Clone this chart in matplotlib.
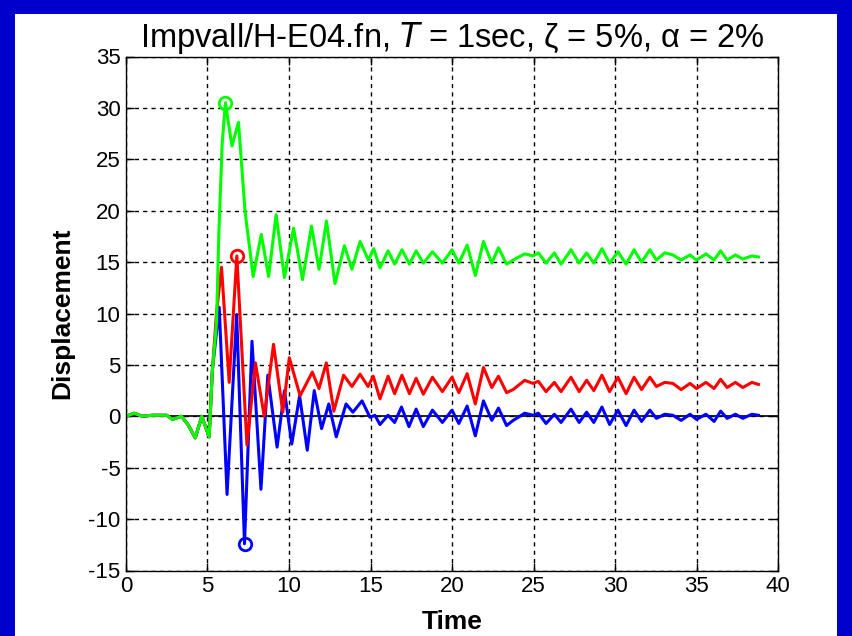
import numpy as np
import matplotlib
matplotlib.use("Agg")
import matplotlib.pyplot as plt
from matplotlib.patches import Rectangle

plt.rcParams["axes.unicode_minus"] = False

# peak / trough readings (time, displacement) for each response
t_green = [0.0, 0.5, 1.0, 1.6, 2.5, 2.85, 3.4, 3.8, 4.25, 4.65, 5.1, 5.3, 5.55, 5.7, 5.9, 6.1,
           6.5, 6.9, 7.3, 7.8, 8.3, 8.75, 9.21, 9.72, 10.28, 10.83, 11.38, 11.84, 12.3, 12.82,
           13.4, 13.86, 14.36, 14.87, 15.2, 15.58, 16.08, 16.48, 16.93, 17.39, 17.8, 18.24,
           18.8, 19.41, 20.0, 20.42, 20.93, 21.43, 21.93, 22.44, 22.85, 23.35, 23.75, 24.46,
           24.97, 25.3, 25.77, 26.28, 26.69, 27.3, 27.8, 28.26, 28.7, 29.2, 29.67, 30.18,
           30.68, 31.17, 31.63, 32.14, 32.54, 33.05, 33.55, 34.06, 34.6, 35.0, 35.58, 36.08,
           36.48, 36.88, 37.39, 37.84, 38.4, 38.8]
green = [0.0, 0.3, 0.0, 0.1, 0.1, -0.3, 0.0, -0.8, -2.1, 0.0, -2.0, 4.5, 9.0, 18.0, 26.5, 30.5,
         26.3, 28.6, 20.0, 13.6, 17.7, 13.6, 19.6, 13.5, 18.3, 13.3, 18.5, 14.3, 19.0, 12.9,
         16.6, 14.3, 17.0, 15.2, 16.3, 14.45, 16.1, 14.8, 16.2, 14.8, 16.1, 14.9,
         16.0, 14.9, 16.2, 14.9, 16.65, 13.7, 17.0, 14.9, 16.4, 14.8, 15.2, 15.8,
         15.6, 15.9, 14.9, 15.9, 14.8, 16.2, 14.9, 15.9, 14.9, 16.3, 14.9, 16.0,
         14.8, 16.2, 15.0, 16.2, 15.2, 15.9, 15.7, 15.2, 15.7, 15.2, 15.8, 15.2,
         16.1, 15.2, 15.7, 15.3, 15.6, 15.5]

t_red = [0.0, 0.5, 1.0, 1.6, 2.5, 2.85, 3.4, 3.8, 4.25, 4.65, 5.1, 5.3, 5.55, 5.86, 6.33, 6.8,
         7.42, 7.94, 8.48, 9.05, 9.62, 10.02, 10.68, 11.43, 11.84, 12.29, 12.75, 13.35, 13.86,
         14.36, 14.85, 15.17, 15.58, 16.08, 16.48, 16.93, 17.39, 17.8, 18.24, 18.8, 19.41,
         20.0, 20.42, 20.93, 21.43, 21.93, 22.44, 22.85, 23.35, 23.75, 24.46, 24.97, 25.3,
         25.77, 26.28, 26.69, 27.3, 27.8, 28.26, 28.7, 29.2, 29.67, 30.18, 30.68, 31.17,
         31.63, 32.14, 32.54, 33.05, 33.55, 34.06, 34.6, 35.0, 35.58, 36.08, 36.48, 36.88,
         37.39, 37.84, 38.4, 38.8]
red = [0.0, 0.3, 0.0, 0.1, 0.1, -0.3, 0.0, -0.8, -2.1, 0.0, -2.0, 4.5, 10.0, 14.5, 3.3, 15.6,
       -2.8, 5.2, 0.0, 7.0, 0.4, 5.7, 2.0, 4.3, 2.7, 5.2, 0.5, 4.0, 2.9,
       4.1, 2.9, 3.9, 1.7, 3.9, 2.2, 4.0, 2.2, 3.7, 2.15, 3.8, 2.4,
       3.8, 2.3, 4.15, 1.2, 4.75, 2.8, 3.9, 2.3, 2.6, 3.5, 3.2, 3.4,
       2.4, 3.3, 2.4, 3.8, 2.4, 3.5, 2.5, 4.0, 2.4, 3.8, 2.2, 3.8,
       2.6, 3.8, 2.9, 3.3, 3.2, 2.6, 3.2, 2.7, 3.3, 2.7, 3.6, 2.8,
       3.3, 2.8, 3.3, 3.1]

t_blue = [0.0, 0.5, 1.0, 1.6, 2.5, 2.85, 3.4, 3.8, 4.25, 4.65, 5.1, 5.3, 5.72, 6.2, 6.79, 7.27,
          7.73, 8.28, 8.7, 9.27, 9.72, 10.17, 10.65, 11.12, 11.55, 12.0, 12.44, 12.9, 13.5,
          13.92, 14.48, 14.97, 15.27, 15.58, 16.08, 16.48, 16.9, 17.36, 17.8, 18.24, 18.8,
          19.41, 20.0, 20.42, 20.93, 21.43, 21.93, 22.44, 22.85, 23.35, 23.75, 24.46, 24.97,
          25.3, 25.77, 26.28, 26.69, 27.3, 27.8, 28.26, 28.7, 29.2, 29.67, 30.18, 30.68,
          31.17, 31.63, 32.14, 32.54, 33.05, 33.55, 34.06, 34.6, 35.0, 35.58, 36.08, 36.48,
          36.88, 37.39, 37.84, 38.4, 38.8]
blue = [0.0, 0.3, 0.0, 0.1, 0.1, -0.3, 0.0, -0.8, -2.1, 0.0, -2.0, 4.5, 10.6, -7.6, 9.9, -12.4,
        7.3, -7.1, 4.0, -3.0, 2.5, -2.7, 2.0, -3.3, 2.5, -1.2, 1.2, -2.0, 1.2,
        0.4, 1.5, -0.1, 0.1, -0.8, 0.1, -0.6, 0.9, -1.0, 0.7, -1.0, 0.6,
        -0.6, 0.6, -0.7, 1.0, -1.9, 1.5, -0.4, 0.8, -0.9, -0.4, 0.3, 0.1,
        0.3, -0.7, 0.2, -0.6, 0.7, -0.6, 0.4, -0.6, 0.9, -0.8, 0.6, -0.9,
        0.6, -0.5, 0.6, -0.2, 0.2, 0.1, -0.4, 0.2, -0.3, 0.2, -0.5, 0.5,
        -0.2, 0.2, -0.2, 0.2, 0.1]

x_ticks = [0, 5, 10, 15, 20, 25, 30, 35, 40]
y_ticks = [-15, -10, -5, 0, 5, 10, 15, 20, 25, 30, 35]

font = ["Liberation Sans", "DejaVu Sans"]

fig = plt.figure(figsize=(8.53, 6.36), dpi=100)
fig.patch.set_facecolor("#0000CC")
fig.patches.append(Rectangle((15 / 853, 0), 822 / 853, 622 / 636, transform=fig.transFigure,
                             facecolor="white", edgecolor="none", zorder=-10))

ax = fig.add_axes([126 / 853, 65.5 / 636, 652 / 853, 514 / 636])
ax.set_zorder(5)
ax.set_facecolor("white")

ax.plot(t_blue, blue, color="#0000FF", lw=2.2)
ax.plot(t_red, red, color="#FF0000", lw=2.2)
ax.plot(t_green, green, color="#00FF00", lw=2.2)

# circles on the extreme values
gi = int(np.argmax(green))
ri = int(np.argmax(red))
bi = int(np.argmin(blue))
ax.plot(t_green[gi], green[gi], "o", mfc="none", mec="#00FF00", ms=9, mew=2)
ax.plot(t_red[ri], red[ri], "o", mfc="none", mec="#FF0000", ms=9, mew=2)
ax.plot(t_blue[bi], blue[bi], "o", mfc="none", mec="#0000FF", ms=9, mew=2)

ax.axhline(0, color="black", lw=1.2, zorder=1)

ax.set_xlim(0, 40)
ax.set_ylim(-15, 35)
ax.set_xticks(x_ticks)
ax.set_yticks(y_ticks)
ax.grid(True, color="black", linestyle=(0, (3, 3)), lw=1.0)
ax.set_axisbelow(True)
ax.tick_params(direction="in", top=True, right=True, length=6, width=1, labelsize=16, pad=4)
for lab in ax.get_xticklabels() + ax.get_yticklabels():
    lab.set_family(font)
for s in ax.spines.values():
    s.set_linewidth(1.0)
    s.set_color("black")

ax.set_title("Impvall/H-E04.fn, $\\it{T}$ = 1sec, \u03b6 = 5%, \u03b1 = 2%", family=font,
             fontsize=23.5, pad=7)
ax.set_xlabel("Time", family=font, fontsize=19, fontweight="bold", labelpad=9)
ax.set_ylabel("Displacement", family=font, fontsize=19, fontweight="bold", labelpad=10)

fig.savefig("out.png", dpi=100, facecolor=fig.get_facecolor())
